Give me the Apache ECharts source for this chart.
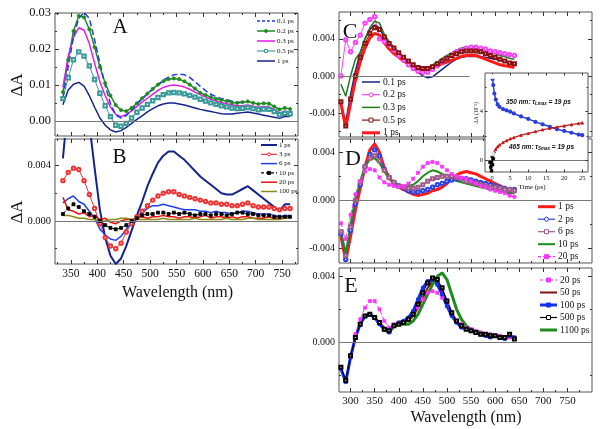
<!DOCTYPE html>
<html><head><meta charset="utf-8">
<script src="https://cdn.jsdelivr.net/npm/echarts@6.0.0/dist/echarts.min.js"></script>
<style>html,body{margin:0;padding:0;background:#fff}#c{width:600px;height:429px}</style>
</head><body><div id="c"></div>
<script>
// ---------- wavelength grids ----------
const W_L = [335,345,355,365,375,385,395,405,415,425,435,445,455,465,475,485,495,505,515,525,535,545,555,565,575,585,595,605,615,625,635,645,655,665,675,685,695,705,715,725,735,745,755,765];
const W_R = [280,290,300,310,320,330,340,350,360,370,380,390,400,410,420,430,440,450,460,470,480,490,500,510,520,530,540,550,560,570,580,590,600,610,620,630,640];

// ---------- panel A ----------
const A_01 = [0.0065,0.0150,0.0235,0.0285,0.0302,0.0285,0.0225,0.0160,0.0098,0.0048,0.0016,0.0008,0.0015,0.0030,0.0046,0.0061,0.0075,0.0088,0.0101,0.0113,0.0122,0.0128,0.0130,0.0128,0.0121,0.0109,0.0096,0.0084,0.0074,0.0067,0.0062,0.0059,0.0055,0.0052,0.0052,null,null,null,null,null,null,null,null,null];
const A_02 = [0.0080,0.0170,0.0250,0.0292,0.0288,0.0255,0.0205,0.0150,0.0105,0.0070,0.0044,0.0030,0.0027,0.0036,0.0049,0.0063,0.0076,0.0089,0.0101,0.0110,0.0116,0.0118,0.0116,0.0110,0.0101,0.0090,0.0078,0.0072,0.0066,0.0061,0.0058,0.0055,0.0051,0.0050,0.0052,0.0054,0.0050,0.0047,0.0049,0.0048,0.0040,0.0032,0.0036,0.0033];
const A_03 = [0.0094,0.0180,0.0232,0.0259,0.0252,0.0215,0.0160,0.0109,0.0070,0.0038,0.0018,0.0012,0.0018,0.0028,0.0040,0.0052,0.0063,0.0074,0.0085,0.0093,0.0098,0.0100,0.0098,0.0094,0.0088,0.0080,0.0073,0.0066,0.0060,0.0055,0.0051,0.0048,0.0045,0.0042,0.0042,0.0044,0.0041,0.0038,0.0040,0.0039,0.0032,0.0022,0.0027,0.0025];
const A_05 = [0.0062,0.0120,0.0170,0.0192,0.0180,0.0153,0.0115,0.0077,0.0042,0.0012,-0.0012,-0.0015,-0.0007,0.0008,0.0024,0.0036,0.0046,0.0056,0.0065,0.0073,0.0078,0.0079,0.0078,0.0075,0.0071,0.0066,0.0060,0.0055,0.0050,0.0046,0.0042,0.0039,0.0036,0.0034,0.0035,0.0037,0.0034,0.0031,0.0033,0.0032,0.0026,0.0017,0.0021,0.0020];
const AB_1 = [0.0045,0.0086,0.0102,0.0107,0.0097,0.0070,0.0038,0.0008,-0.0012,-0.0025,-0.0031,-0.0027,-0.0018,-0.0007,0.0004,0.0014,0.0025,0.0034,0.0042,0.0047,0.0050,0.0050,0.0047,0.0044,0.0040,0.0036,0.0032,0.0029,0.0026,0.0023,0.0020,0.0019,0.0019,0.0021,0.0023,0.0025,0.0022,0.0019,0.0016,0.0013,0.0010,0.0007,0.0012,0.0012];

// ---------- panel B ----------
const B_3 = [0.0029,0.0035,0.0038,0.0037,0.0029,0.0019,0.0009,-0.0002,-0.0012,-0.0018,-0.0020,-0.0016,-0.0008,-0.0002,0.0003,0.0007,0.0011,0.0015,0.0018,0.0020,0.0021,0.0021,0.0019,0.0018,0.0017,0.0016,0.0015,0.0014,0.0013,0.0013,0.0012,0.0012,0.0011,0.0011,0.0012,0.0013,0.0011,0.0010,0.0010,0.0010,0.0009,0.0008,0.0009,0.0009];
const B_6 = [0.0013,0.0016,0.0018,0.0014,0.0012,0.0007,0.0002,-0.0006,-0.0010,-0.0013,-0.0014,-0.0011,-0.0006,-0.0001,0.0003,0.0006,0.0009,0.0011,0.0011,0.0012,0.0011,0.0010,0.0009,0.0008,0.0008,0.0008,0.0007,0.0007,0.0006,0.0007,0.0006,0.0006,0.0005,0.0006,0.0007,0.0007,0.0006,0.0005,0.0005,0.0005,0.0004,0.0003,0.0004,0.0004];
const B_10 = [0.0005,0.0009,0.0012,0.0010,0.0007,0.0005,0.0003,0.0000,-0.0003,-0.0005,-0.0006,-0.0005,-0.0003,0.0000,0.0002,0.0004,0.0005,0.0005,0.0006,0.0006,0.0005,0.0006,0.0005,0.0006,0.0005,0.0004,0.0005,0.0005,0.0004,0.0005,0.0005,0.0004,0.0005,0.0006,0.0006,0.0005,0.0005,0.0004,0.0004,0.0004,0.0003,0.0003,0.0003,0.0003];
const B_20 = [0.0017,0.0008,0.0007,0.0005,0.0006,0.0003,0.0004,0.0001,0.0002,-0.0001,-0.0002,0.0000,0.0001,0.0001,0.0002,0.0003,0.0002,0.0003,0.0003,0.0004,0.0003,0.0003,0.0002,0.0003,0.0003,0.0002,0.0003,0.0004,0.0002,0.0003,0.0003,0.0002,0.0003,0.0002,0.0003,0.0003,0.0002,0.0002,0.0002,0.0003,0.0002,0.0002,0.0002,0.0002];
const B_100 = [0.0004,0.0004,0.0003,0.0002,0.0002,0.0001,0.0001,0.0000,0.0000,0.0001,0.0001,0.0002,0.0002,0.0001,0.0001,0.0001,0.0001,0.0001,0.0001,0.0002,0.0001,0.0001,0.0001,0.0001,0.0001,0.0002,0.0001,0.0001,0.0001,0.0001,0.0001,0.0002,0.0001,0.0001,0.0001,0.0002,0.0002,0.0001,0.0001,0.0001,0.0001,0.0001,0.0002,0.0002];

// ---------- panel C ----------
const C_01 = [-0.0030,-0.0050,-0.0020,0.0005,0.0025,0.0040,0.0050,0.0055,0.0052,0.0042,0.0035,0.0028,0.0022,0.0017,0.0012,0.0008,0.0004,0.0000,-0.0002,-0.0001,0.0003,0.0007,0.0011,0.0015,0.0018,0.0020,0.0021,0.0021,0.0021,0.0021,0.0020,0.0019,0.0018,0.0017,0.0016,0.0015,0.0014];
const C_02 = [0.0000,0.0039,0.0026,0.0036,0.0044,0.0057,0.0061,0.0064,0.0040,0.0037,0.0034,0.0028,0.0022,0.0017,0.0012,0.0008,0.0005,0.0004,0.0004,0.0007,0.0011,0.0015,0.0019,0.0023,0.0026,0.0028,0.0030,0.0031,0.0031,0.0030,0.0029,0.0027,0.0026,0.0025,0.0024,0.0023,0.0022];
const C_03 = [-0.0009,-0.0022,0.0000,0.0018,0.0025,0.0040,0.0052,0.0059,0.0057,0.0045,0.0037,0.0031,0.0026,0.0020,0.0016,0.0012,0.0009,0.0008,0.0009,0.0012,0.0015,0.0019,0.0022,0.0025,0.0028,0.0030,0.0031,0.0032,0.0031,0.0030,0.0028,0.0026,0.0024,0.0022,0.0021,0.0019,0.0018];
const C_05 = [-0.0028,-0.0054,-0.0025,0.0000,0.0020,0.0035,0.0046,0.0052,0.0050,0.0042,0.0035,0.0030,0.0025,0.0020,0.0016,0.0012,0.0009,0.0008,0.0008,0.0010,0.0013,0.0016,0.0019,0.0022,0.0024,0.0026,0.0027,0.0027,0.0027,0.0026,0.0024,0.0022,0.0020,0.0018,0.0016,0.0014,0.0013];
const C_1 = [-0.0030,-0.0056,-0.0030,-0.0005,0.0015,0.0030,0.0041,0.0046,0.0044,0.0036,0.0029,0.0024,0.0020,0.0016,0.0013,0.0010,0.0008,0.0007,0.0007,0.0009,0.0011,0.0013,0.0015,0.0017,0.0019,0.0021,0.0022,0.0022,0.0022,0.0020,0.0018,0.0016,0.0014,0.0012,0.0011,0.0010,0.0009];

// ---------- panel D ----------
const D_1 = [-0.0030,-0.0050,-0.0030,-0.0008,0.0010,0.0028,0.0042,0.0047,0.0040,0.0027,0.0019,0.0014,0.0011,0.0009,0.0007,0.0005,0.0004,0.0005,0.0006,0.0008,0.0009,0.0011,0.0014,0.0018,0.0021,0.0023,0.0024,0.0023,0.0022,0.0020,0.0018,0.0016,0.0014,0.0012,0.0010,0.0008,0.0006];
const D_2 = [-0.0028,-0.0049,-0.0025,-0.0003,0.0013,0.0028,0.0038,0.0042,0.0037,0.0026,0.0019,0.0015,0.0012,0.0010,0.0008,0.0007,0.0007,0.0008,0.0009,0.0011,0.0013,0.0014,0.0016,0.0017,0.0018,0.0018,0.0018,0.0017,0.0016,0.0015,0.0014,0.0013,0.0012,0.0011,0.0010,0.0009,0.0009];
const D_6 = [-0.0026,-0.0046,-0.0022,0.0000,0.0015,0.0028,0.0035,0.0037,0.0033,0.0025,0.0019,0.0015,0.0012,0.0011,0.0010,0.0010,0.0011,0.0013,0.0016,0.0018,0.0019,0.0020,0.0020,0.0020,0.0019,0.0018,0.0016,0.0015,0.0014,0.0013,0.0012,0.0011,0.0011,0.0010,0.0009,0.0009,0.0008];
const D_10 = [-0.0025,-0.0044,-0.0020,0.0002,0.0016,0.0028,0.0034,0.0035,0.0031,0.0024,0.0018,0.0015,0.0013,0.0012,0.0012,0.0013,0.0016,0.0020,0.0023,0.0025,0.0024,0.0022,0.0020,0.0018,0.0016,0.0015,0.0014,0.0013,0.0012,0.0011,0.0010,0.0009,0.0009,0.0008,0.0007,0.0006,0.0006];
const D_20 = [-0.0019,-0.0032,-0.0012,0.0005,0.0016,0.0024,0.0026,0.0025,0.0019,0.0015,0.0013,0.0012,0.0011,0.0012,0.0014,0.0018,0.0023,0.0028,0.0031,0.0032,0.0031,0.0028,0.0025,0.0022,0.0020,0.0019,0.0018,0.0016,0.0014,0.0012,0.0011,0.0009,0.0008,0.0007,0.0006,0.0004,0.0003];

// ---------- panel E ----------
const E_20 = [-0.0015,-0.0023,-0.0008,0.0005,0.0014,0.0021,0.0025,0.0025,0.0020,0.0013,0.0009,0.0011,0.0012,0.0013,0.0014,0.0017,0.0021,0.0026,0.0030,0.0031,0.0030,0.0027,0.0022,0.0017,0.0013,0.0011,0.0009,0.0008,0.0007,0.0006,0.0005,0.0005,0.0004,0.0004,0.0003,0.0003,0.0003];
const E_50 = [-0.0016,-0.0024,-0.0009,0.0003,0.0011,0.0016,0.0017,0.0015,0.0012,0.0009,0.0007,0.0010,0.0012,0.0012,0.0013,0.0016,0.0021,0.0027,0.0033,0.0037,0.0037,0.0032,0.0025,0.0018,0.0013,0.0010,0.0009,0.0008,0.0007,0.0006,0.0005,0.0005,0.0004,0.0004,0.0003,0.0003,0.0003];
const E_100 = [-0.0016,-0.0024,-0.0009,0.0003,0.0011,0.0016,0.0017,0.0015,0.0011,0.0008,0.0006,0.0010,0.0012,0.0013,0.0015,0.0019,0.0026,0.0033,0.0037,0.0038,0.0035,0.0029,0.0022,0.0016,0.0012,0.0009,0.0008,0.0007,0.0006,0.0005,0.0004,0.0003,0.0004,0.0003,0.0002,0.0004,0.0003];
const E_500 = [-0.0015,-0.0023,-0.0008,0.0003,0.0011,0.0016,0.0017,0.0015,0.0012,0.0008,0.0007,0.0010,0.0011,0.0012,0.0014,0.0017,0.0023,0.0030,0.0036,0.0039,0.0038,0.0033,0.0025,0.0018,0.0013,0.0010,0.0008,0.0007,0.0006,0.0005,0.0005,0.0004,0.0004,0.0003,0.0003,0.0005,0.0002];
const E_1100 = [null,null,null,null,null,null,null,null,null,0.0007,0.0008,0.0010,0.0011,0.0011,0.0011,0.0013,0.0017,0.0023,0.0029,0.0035,0.0040,0.0042,0.0038,0.0029,0.0020,0.0014,0.0010,0.0008,0.0007,0.0006,0.0005,0.0005,0.0004,0.0004,0.0003,0.0003,0.0003];

// ---------- inset (kinetics) ----------
const T_I = [0.1,0.3,0.6,1,1.5,2,3,4,5,6,8,10,12,14,16,18,20,22,24,25];
const I_350 = [6.7,6.2,5.5,5.0,4.6,4.4,4.2,4.1,4.0,3.85,3.6,3.4,3.15,2.95,2.75,2.55,2.4,2.25,2.1,2.05];
const I_465 = [0.3,0.5,0.7,0.9,1.1,1.25,1.45,1.6,1.75,1.85,2.05,2.2,2.35,2.5,2.62,2.72,2.82,2.92,3.02,3.07];
const T_EARLY = [-0.6,-0.4,-0.2,0,0.1,0.2,0.3];
const V_EARLY = [-0.2,-0.6,-0.9,0.3,-0.4,0.5,0.1];
const T_SQ = [0.1,0.1,0.1,0.1];
const V_SQ = [6.9,4.3,2.0,0.5];

// ---------- tick labels ----------
const XL_MAJ = [350,400,450,500,550,600,650,700,750];
const XL_MIN = [325,375,425,475,525,575,625,675,725,775];
const XR_MAJ = [300,350,400,450,500,550,600,650,700,750];
const XR_MIN = [325,375,425,475,525,575,625,675,725,775];
const YA_MAJ = [0,0.01,0.02,0.03];
const YA_MIN = [0.005,0.015,0.025];
const YB_MAJ = [0,0.004];
const YB_MIN = [-0.002,0.002];
const YC_MAJ = [-0.004,0,0.004];
const YC_MIN = [-0.006,-0.002,0.002,0.006];
const YD_MAJ = [-0.004,0,0.004];
const YD_MIN = [-0.002,0.002];
const YE_MAJ = [0,0.004];
const YE_MIN = [-0.002,0.002];
const XI_MAJ = [0,5,10,15,20,25];
const YI_MAJ = [0,4];
const YI_MIN = [2,6];

const SERIF = "'Liberation Serif','Times New Roman',serif";
const SANS = "'Liberation Sans',Arial,sans-serif";

// ---------- series styles ----------
const ST = {
  A01:{color:'#1f3fe0', width:1.5, type:'dashed'},
  A02:{color:'#1e8c1e', symbol:'circle', size:3.2, width:1.5},
  A03:{color:'#e619e6', width:1.5},
  A05:{color:'#3a9a9a', symbol:'emptyRect', size:3.4, width:1},
  A1:{color:'#14238c', width:1.5},
  B1:{color:'#14238c', width:2},
  B3:{color:'#ee3333', symbol:'emptyCircle', size:3.4, width:1},
  B6:{color:'#1f3ff0', width:1.5},
  B10:{color:'#000', symbol:'rect', size:3, width:1, type:'dashed'},
  B20:{color:'#ee1111', width:1.5},
  B100:{color:'#8a8a10', width:1.5},
  C01:{color:'#14238c', width:1.5},
  C02:{color:'#ff40ff', symbol:'emptyCircle', size:3.4, width:1},
  C03:{color:'#1e7a1e', width:1.5},
  C05:{color:'#8b1010', symbol:'emptyRect', size:3, width:1},
  C1:{color:'#ff1a1a', width:3},
  D1:{color:'#ff1a1a', width:3},
  D2:{color:'#2a40e0', symbol:'emptyCircle', size:3.4, width:1},
  D6:{color:'#a05a8c', symbol:'emptyRect', size:3, width:1},
  D10:{color:'#1e8c1e', width:2},
  D20:{color:'#ff33ff', symbol:'rect', size:3, width:1, type:'dashed'},
  E20:{color:'#ff33ff', symbol:'rect', size:3, width:1, type:'dashed'},
  E50:{color:'#8b1010', width:2},
  E100:{color:'#1030f0', symbol:'rect', size:3, width:3},
  E500:{color:'#000', symbol:'emptyRect', size:3, width:1},
  E1100:{color:'#1e8c1e', width:3}
};

const grids = [
  {left:55, top:13, width:243, height:123},
  {left:55, top:139, width:243, height:125},
  {left:339, top:12, width:253, height:125},
  {left:339, top:139, width:253, height:124},
  {left:339, top:268, width:253, height:124},
  {left:485, top:73, width:103, height:99, backgroundColor:'#fff', z:5}
].map(g => Object.assign({show:true, borderColor:'#555', borderWidth:1, containLabel:false}, g));

const xAxes = [], yAxes = [];
function axisSet(gi, dim, min, max, maj, minr, label, majLen, minLen) {
  const pos = dim === 'x' ? ['bottom','top'] : ['left','right'];
  const arr = dim === 'x' ? xAxes : yAxes;
  const first = arr.length;
  const base = {gridIndex:gi, type:'value', min:min, max:max, splitLine:{show:false},
    axisLine:{show:false, onZero:false}, axisPointer:{show:false}, silent:true, z: gi===5?6:2};
  pos.forEach((p,k) => {
    arr.push(Object.assign({}, base, {position:p,
      axisTick:{show:true, inside:true, length:majLen, customValues:maj, lineStyle:{color:'#333', width:1}},
      axisLabel:(k===0 && label) ? Object.assign({show:true, customValues:maj, color:'#111'}, label) : {show:false}}));
    if (minr && minr.length) {
      arr.push(Object.assign({}, base, {position:p,
        axisTick:{show:true, inside:true, length:minLen, customValues:minr, lineStyle:{color:'#333', width:1}},
        axisLabel:{show:false}}));
    }
  });
  return first;
}
const xlab = (fs) => ({fontFamily:SERIF, fontSize:fs, margin:4});
const ylab = (fs, d) => ({fontFamily:SERIF, fontSize:fs, margin:4, formatter:v => Number(v).toFixed(d)});

const xA = axisSet(0,'x',320,780,XL_MAJ,XL_MIN,null,4,2);
const yA = axisSet(0,'y',-0.0042,0.03,YA_MAJ,YA_MIN,ylab(12.5,2),4,2);
const xB = axisSet(1,'x',320,780,XL_MAJ,XL_MIN,xlab(11.5),4,2);
const yB = axisSet(1,'y',-0.0031,0.0059,YB_MAJ,YB_MIN,ylab(10.5,3),4,2);
const xC = axisSet(2,'x',276,801,XR_MAJ,XR_MIN,null,4,2);
const yC = axisSet(2,'y',-0.0066,0.0069,YC_MAJ,YC_MIN,ylab(10,3),4,2);
const xD = axisSet(3,'x',276,801,XR_MAJ,XR_MIN,null,4,2);
const yD = axisSet(3,'y',-0.0052,0.0051,YD_MAJ,YD_MIN,ylab(10,3),4,2);
const xE = axisSet(4,'x',276,801,XR_MAJ,XR_MIN,xlab(11),4,2);
const yE = axisSet(4,'y',-0.003,0.0045,YE_MAJ,YE_MIN,ylab(10,3),4,2);
const xI = axisSet(5,'x',-2,26.6,XI_MAJ,null,{fontFamily:SERIF, fontSize:6.5, margin:3},2.5,1.5);
const yI = axisSet(5,'y',-1,7.2,YI_MAJ,YI_MIN,{fontFamily:SERIF, fontSize:6.5, margin:2},2.5,1.5);

function ser(name, xi, yi, xs, ys, st, extra) {
  extra = extra || {};
  const s = {
    type:'line', name:name, xAxisIndex:xi, yAxisIndex:yi, animation:false,
    data: xs.map((x,i) => [x, ys[i]]),
    symbol: st.symbol || 'none', symbolSize: st.size || 3, showSymbol: !!st.symbol,
    lineStyle:{color:st.color, width:st.width == null ? 1.5 : st.width, type:st.type || 'solid'},
    itemStyle:{color:st.color, borderColor:st.color, borderWidth:0.8},
    connectNulls:false, clip:true, z: extra.z || 2, silent:true
  };
  if (extra.zero) {
    s.markLine = {silent:true, symbol:'none', animation:false, label:{show:false},
      lineStyle:{color:'#777', width:1, type:'solid'},
      data: extra.zero === true ? [{yAxis:0}] : [[{coord:[extra.zero[0],0]},{coord:[extra.zero[1],0]}]]};
  }
  return s;
}

const series = [
  ser('A 0.2 ps', xA, yA, W_L, A_02, ST.A02, {zero:true}),
  ser('A 0.5 ps', xA, yA, W_L, A_05, ST.A05),
  ser('A 1 ps', xA, yA, W_L, AB_1, ST.A1),
  ser('A 0.3 ps', xA, yA, W_L, A_03, ST.A03),
  ser('A 0.1 ps', xA, yA, W_L, A_01, ST.A01),
  ser('B 1 ps', xB, yB, W_L, AB_1, ST.B1, {zero:true}),
  ser('B 3 ps', xB, yB, W_L, B_3, ST.B3),
  ser('B 6 ps', xB, yB, W_L, B_6, ST.B6),
  ser('B 10 ps', xB, yB, W_L, B_10, ST.B10),
  ser('B 20 ps', xB, yB, W_L, B_20, ST.B20),
  ser('B 100 ps', xB, yB, W_L, B_100, ST.B100),
  ser('C 0.1 ps', xC, yC, W_R, C_01, ST.C01, {zero:[276,547]}),
  ser('C 0.2 ps', xC, yC, W_R, C_02, ST.C02),
  ser('C 0.3 ps', xC, yC, W_R, C_03, ST.C03),
  ser('C 0.5 ps', xC, yC, W_R, C_05, ST.C05),
  ser('C 1 ps', xC, yC, W_R, C_1, ST.C1),
  ser('D 1 ps', xD, yD, W_R, D_1, ST.D1, {zero:true}),
  ser('D 2 ps', xD, yD, W_R, D_2, ST.D2),
  ser('D 6 ps', xD, yD, W_R, D_6, ST.D6),
  ser('D 10 ps', xD, yD, W_R, D_10, ST.D10),
  ser('D 20 ps', xD, yD, W_R, D_20, ST.D20),
  ser('E 20 ps', xE, yE, W_R, E_20, ST.E20, {zero:true}),
  ser('E 50 ps', xE, yE, W_R, E_50, ST.E50),
  ser('E 100 ps', xE, yE, W_R, E_100, ST.E100),
  ser('E 500 ps', xE, yE, W_R, E_500, ST.E500),
  ser('E 1100 ps', xE, yE, W_R, E_1100, ST.E1100),
  ser('I 350', xI, yI, T_I, I_350, {color:'#2a3fd8', symbol:'emptyCircle', size:2.2, width:1.5}, {zero:true, z:7}),
  ser('I 465', xI, yI, T_I, I_465, {color:'#c41a1a', symbol:'triangle', size:2.6, width:1.2}, {z:7}),
  ser('I early', xI, yI, T_EARLY, V_EARLY, {color:'#000', symbol:'rect', size:2.6, width:1}, {z:7}),
  Object.assign(ser('I sq', xI, yI, T_SQ, V_SQ, {color:'#333', symbol:'emptyRect', size:2.6, width:0}, {z:7}), {type:'scatter'})
];
series[series.length-1].itemStyle = {color:'#fff', borderColor:'#333', borderWidth:0.8};

// ---------- legends (drawn as graphic: line + marker + text) ----------
function legendBlock(items, x0, x1, tx, y0, pitch, fs, msz) {
  const out = [];
  items.forEach((it, i) => {
    const st = it[1], y = y0 + pitch * i, cx = (x0 + x1) / 2;
    out.push({type:'line', z:20, shape:{x1:x0, y1:y, x2:x1, y2:y},
      style:{stroke:st.color, lineWidth:Math.max(st.width || 1.5, 1.2), lineDash: st.type === 'dashed' ? [3,2] : null}});
    if (st.symbol) {
      const empty = st.symbol.indexOf('empty') === 0;
      const fill = empty ? '#fff' : st.color;
      const sty = {fill:fill, stroke:st.color, lineWidth:1};
      if (st.symbol.toLowerCase().indexOf('circle') >= 0)
        out.push({type:'circle', z:21, shape:{cx:cx, cy:y, r:msz/2}, style:sty});
      else
        out.push({type:'rect', z:21, shape:{x:cx - msz/2, y:y - msz/2, width:msz, height:msz}, style:sty});
    }
    out.push({type:'text', z:21, x:tx, y:y, style:{text:it[0], font:fs + 'px ' + SERIF, fill:'#111',
      align:'left', textAlign:'left', verticalAlign:'middle', textVerticalAlign:'middle'}});
  });
  return out;
}
const LEG_A = [['0.1 ps',ST.A01],['0.2 ps',ST.A02],['0.3 ps',ST.A03],['0.5 ps',ST.A05],['1 ps',ST.A1]];
const LEG_B = [['1 ps',ST.B1],['3 ps',ST.B3],['6 ps',ST.B6],['10 ps',ST.B10],['20 ps',ST.B20],['100 ps.',ST.B100]];
const LEG_C = [['0.1 ps',ST.C01],['0.2 ps',ST.C02],['0.3 ps',ST.C03],['0.5 ps',ST.C05],['1 ps',ST.C1]];
const LEG_D = [['1 ps',ST.D1],['2 ps',ST.D2],['6 ps',ST.D6],['10 ps',ST.D10],['20 ps',ST.D20]];
const LEG_E = [['20 ps',ST.E20],['50 ps',ST.E50],['100 ps',ST.E100],['500 ps',ST.E500],['1100 ps',ST.E1100]];

function txt(text, x, y, font, rot, align) {
  return {type:'text', x:x, y:y, rotation:rot || 0, z:10,
    style:{text:text, font:font, fill:'#111', textAlign:align || 'center', align:align || 'center',
      textVerticalAlign:'middle', verticalAlign:'middle'}};
}
const rich = {
  b:{fontFamily:SANS, fontSize:6.5, fontStyle:'italic', fontWeight:'bold', fill:'#111', color:'#111'},
  s:{fontFamily:SANS, fontSize:4.5, fontStyle:'italic', fontWeight:'bold', fill:'#111', color:'#111', padding:[4,0,0,0]}
};
const graphics = [
  txt('A', 120, 27, '21px ' + SERIF),
  txt('B', 119.5, 157, '21px ' + SERIF),
  txt('C', 350, 32, '22px ' + SERIF),
  txt('D', 353, 159.5, '22px ' + SERIF),
  txt('E', 351, 286.5, '22px ' + SERIF),
  txt('ΔA', 18, 85, '17px ' + SERIF, Math.PI/2),
  txt('ΔA', 18, 212, '17px ' + SERIF, Math.PI/2),
  txt('Wavelength (nm)', 177.5, 293, '16px ' + SERIF),
  txt('Wavelength (nm)', 466, 418, '16px ' + SERIF),
  txt('Time (ps)', 532, 187, '7px ' + SERIF),
  txt('ΔA (10⁻³)', 477, 113, '5.5px ' + SERIF, Math.PI/2),
  {type:'text', x:506, y:102, z:10, style:{text:'{b|350 nm: τ}{s|Lmax}{b| = 19 ps}', rich:rich, verticalAlign:'middle', textVerticalAlign:'middle'}},
  {type:'text', x:509, y:147, z:10, style:{text:'{b|465 nm: τ}{s|Smax}{b| = 19 ps}', rich:rich, verticalAlign:'middle', textVerticalAlign:'middle'}}
].concat(
  legendBlock(LEG_A, 257, 275, 277, 21, 10, 7, 3),
  legendBlock(LEG_B, 261, 277, 279, 145, 9.3, 7, 3),
  legendBlock(LEG_C, 362, 380, 383, 82, 12.7, 9.5, 4),
  legendBlock(LEG_D, 538, 555, 558, 206.7, 12.5, 9.5, 4),
  legendBlock(LEG_E, 540, 557, 560, 280, 12.5, 9.5, 4)
);

const chart = echarts.init(document.getElementById('c'), null, {renderer:'canvas'});
chart.setOption({
  animation:false,
  backgroundColor:'#fff',
  grid:grids, xAxis:xAxes, yAxis:yAxes, series:series, graphic:graphics
});
</script>
</body></html>
